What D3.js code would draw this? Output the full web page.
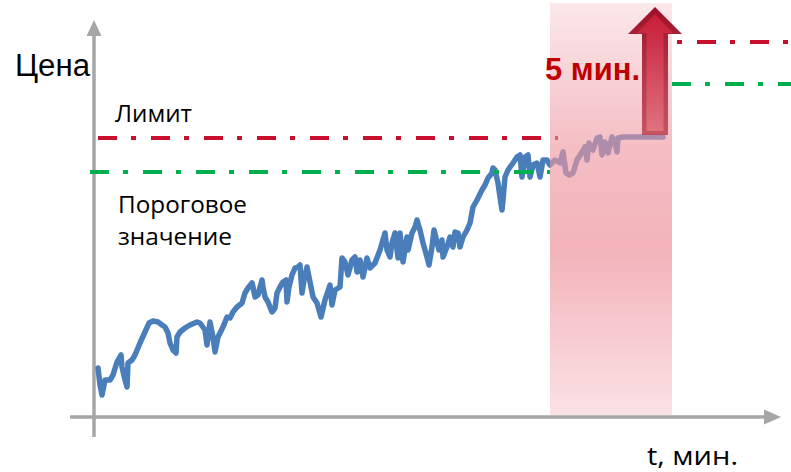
<!DOCTYPE html>
<html><head><meta charset="utf-8">
<script src="https://cdn.jsdelivr.net/npm/d3@7"></script>
<style>html,body{margin:0;padding:0;background:#fff;overflow:hidden}</style>
</head><body>
<svg id="chart" width="791" height="472"></svg>
<script>
// ---- data (time units, price units) ----
const timeValues = [0.3,0.5,0.7,1.0,1.5,1.8,2.2,2.6,2.7,3.0,3.2,3.3,3.7,4.0,4.5,5.0,5.4,5.8,6.3,6.7,7.0,7.3,7.5,7.8,8.1,8.2,8.5,9.0,9.5,10.2,10.5,11.0,11.2,11.5,11.8,12.0,12.3,12.8,13.2,13.5,13.8,14.2,14.7,15.0,15.3,15.7,15.8,16.0,16.3,16.7,16.8,17.0,17.3,17.7,18.0,18.2,18.5,18.8,19.1,19.2,19.4,19.7,20.0,20.3,20.5,20.7,20.9,21.2,21.5,21.8,22.2,22.6,23.0,23.5,23.7,24.0,24.5,24.7,25.0,25.3,25.7,26.0,26.2,26.5,26.8,27.2,27.5,28.0,28.5,29.0,29.2,29.5,29.7,30.0,30.3,30.5,30.8,31.2,31.3,31.7,32.0,32.2,32.5,32.8,33.2,33.4,33.7,33.9,34.2,34.4,34.7,34.8,35.2,35.5,35.8,36.0,36.3,36.5,36.8,37.2,37.5,37.8,38.2,38.7,39.0,39.3,39.7,39.8,40.0,40.3,40.5,40.7,40.8,41.0,41.3,41.8,42.2,42.5,42.7,43.0,43.3,43.5,43.8,44.2,44.5,44.8,45.2,45.5,46.0,46.5,46.8,47.1,47.4,47.8,48.2,48.7,49.0,49.2,49.4,49.8,50.2,50.5,50.7,51.0,51.3,51.7,52.0,52.2,52.3,52.8,56.8];
const priceValues = [11.5,7.25,4.75,8.5,8.5,9.75,13,14.75,11.75,8.5,6.75,12.75,13.5,14.75,17.75,20.5,22.75,23.25,23,22.25,21.75,20.25,17.75,16,15.25,19.25,20.5,21.5,22.25,23,22.75,21,17.25,23,19.25,15.5,19.25,21.75,24.25,24,25.5,26.75,27.75,30.25,31.5,32.75,31.75,29.25,29.75,33.5,31.75,29.25,28,25.5,26.5,30.25,31.75,33,33.5,28,31.75,34.75,36.5,36.75,37.25,30.25,33.5,36.75,33,29.25,27.75,24.25,28.5,32.25,27.25,31,31.75,39,38,34.75,38.5,39.25,35.5,38.5,34.25,39,36.5,37.75,41,45.25,41,39.25,42.75,45.25,39,45.25,38,44.25,41,45.25,46.75,48.5,46,42.75,39.25,37.25,41.75,46,43,41,43.5,39.25,41.75,44.25,41.75,45.5,45.25,41.75,44.25,46,47.75,51.75,53.5,56,57.25,59,60.25,61.5,61,57.75,54.25,51,53.5,59.25,61,62.75,64.25,64.75,59.25,64.25,64.75,59.25,62.25,62.75,59.25,63.5,63.5,62.25,63.5,62.75,65.5,60.25,59.75,60.25,63.5,65.5,66.75,63.5,67.75,66,69,69.25,64.75,68,65.25,69.25,67.75,65.5,69,69.25,69.25];

const limitLevel = 69;          // "Лимит"
const thresholdLevel = 60.5;    // "Пороговое значение"
const limitLevelAfter = 93;
const thresholdLevelAfter = 82.5;
const windowStart = 45.5, windowEnd = 57.7;   // 5-minute window
const arrowTime = 56.0, arrowFrom = 69.75, arrowTo = 101.75;

const labels = {
  yAxis: "Цена", xAxis: "t, мин.", limit: "Лимит",
  threshold1: "Пороговое", threshold2: "значение", window: "5 мин."
};

// ---- scales ----
const x = d3.scaleLinear().domain([0, 70]).range([95, 795]);
const y = d3.scaleLinear().domain([0, 100]).range([414, 14]);

const svg = d3.select("#chart");
const defs = svg.append("defs");

const axisColor = "#a6a6a6";
const axisX = 94, axisY = 417;

// y axis
svg.append("line").attr("x1", axisX).attr("x2", axisX).attr("y1", 437).attr("y2", 34)
  .attr("stroke", axisColor).attr("stroke-width", 3.5);
svg.append("path").attr("d", `M${axisX},20 L${axisX-7.5},36 L${axisX+7.5},36 Z`).attr("fill", axisColor);
// x axis
svg.append("line").attr("x1", 70).attr("x2", 766).attr("y1", axisY).attr("y2", axisY)
  .attr("stroke", axisColor).attr("stroke-width", 3.5);
svg.append("path").attr("d", `M781,${axisY} L764,${axisY-7.5} L764,${axisY+7.5} Z`).attr("fill", axisColor);

// price line
const pts = timeValues.map((t, i) => [t, priceValues[i]]);
svg.append("path").datum(pts)
  .attr("d", d3.line().x(d => x(d[0])).y(d => y(d[1])))
  .attr("fill", "none").attr("stroke", "#4a7ebb").attr("stroke-width", 5.5)
  .attr("stroke-linejoin", "round").attr("stroke-linecap", "round");

const dash = "19,14,5,15";
// threshold (green) and limit (red) lines
svg.append("line").attr("x1", 90).attr("x2", x(windowStart)).attr("y1", y(thresholdLevel)).attr("y2", y(thresholdLevel))
  .attr("stroke", "#00b050").attr("stroke-width", 4).attr("stroke-dasharray", dash);
svg.append("line").attr("x1", 98).attr("x2", 558).attr("y1", y(limitLevel)).attr("y2", y(limitLevel))
  .attr("stroke", "#c8102e").attr("stroke-width", 4).attr("stroke-dasharray", dash);
svg.append("line").attr("x1", 644).attr("x2", 791).attr("y1", y(limitLevelAfter)).attr("y2", y(limitLevelAfter))
  .attr("stroke", "#c8102e").attr("stroke-width", 4).attr("stroke-dasharray", dash);
svg.append("line").attr("x1", x(windowEnd)).attr("x2", 791).attr("y1", y(thresholdLevelAfter)).attr("y2", y(thresholdLevelAfter))
  .attr("stroke", "#00b050").attr("stroke-width", 4).attr("stroke-dasharray", dash);

// window overlay
const g1 = defs.append("linearGradient").attr("id", "band").attr("x1", 0).attr("x2", 0).attr("y1", 0).attr("y2", 1);
[[0, 0.22], [0.35, 0.62], [0.6, 0.72], [1, 0.28]].forEach(([o, a]) =>
  g1.append("stop").attr("offset", o).attr("stop-color", "#ee96a0").attr("stop-opacity", a));
svg.append("rect").attr("x", x(windowStart)).attr("y", 3)
  .attr("width", x(windowEnd) - x(windowStart)).attr("height", axisY - 2 - 3)
  .attr("fill", "url(#band)");

// arrow
const gOut = defs.append("linearGradient").attr("id", "arrOut").attr("x1", 0).attr("x2", 0).attr("y1", 0).attr("y2", 1);
gOut.append("stop").attr("offset", 0).attr("stop-color", "#9c1026");
gOut.append("stop").attr("offset", 1).attr("stop-color", "#c0404f").attr("stop-opacity", 0.85);
const gIn = defs.append("linearGradient").attr("id", "arrIn").attr("x1", 0).attr("x2", 0).attr("y1", 0).attr("y2", 1);
gIn.append("stop").attr("offset", 0).attr("stop-color", "#c81c38");
gIn.append("stop").attr("offset", 1).attr("stop-color", "#e27582").attr("stop-opacity", 0.9);

function arrowPath(cx, bottom, tip, shaftHalf, headHalf, headH) {
  const p = d3.path();
  p.moveTo(cx, tip);
  p.lineTo(cx + headHalf, tip + headH);
  p.lineTo(cx + shaftHalf, tip + headH);
  p.lineTo(cx + shaftHalf, bottom);
  p.lineTo(cx - shaftHalf, bottom);
  p.lineTo(cx - shaftHalf, tip + headH);
  p.lineTo(cx - headHalf, tip + headH);
  p.closePath();
  return p.toString();
}
const ax = x(arrowTime), ab = y(arrowFrom), at = y(arrowTo);
svg.append("path").attr("d", arrowPath(ax, ab, at, 13, 27, 27)).attr("fill", "url(#arrOut)");
svg.append("path").attr("d", arrowPath(ax, ab - 4, at + 7, 8.5, 18, 19)).attr("fill", "url(#arrIn)");

// texts
function txt(s, px, py, size, width, opts = {}) {
  return svg.append("text").attr("x", px).attr("y", py).text(s)
    .attr("font-family", opts.family || "'Liberation Sans', Arial, sans-serif")
    .attr("font-size", size).attr("font-weight", opts.weight || "normal")
    .attr("fill", opts.fill || "#000")
    .attr("textLength", width).attr("lengthAdjust", "spacingAndGlyphs");
}
txt(labels.yAxis, 15, 76, 31, 75);
txt(labels.limit, 115, 122, 24, 77, {family: "'Open Sans', sans-serif"});
txt(labels.threshold1, 118, 213, 23, 129, {family: "'Open Sans', sans-serif"});
txt(labels.threshold2, 118, 245, 23, 114, {family: "'Open Sans', sans-serif"});
txt(labels.xAxis, 647, 465, 25, 91, {family: "'Open Sans', sans-serif"});
txt(labels.window, 545, 80, 32, 95, {weight: "bold", fill: "#c00000"});
</script>
</body></html>
